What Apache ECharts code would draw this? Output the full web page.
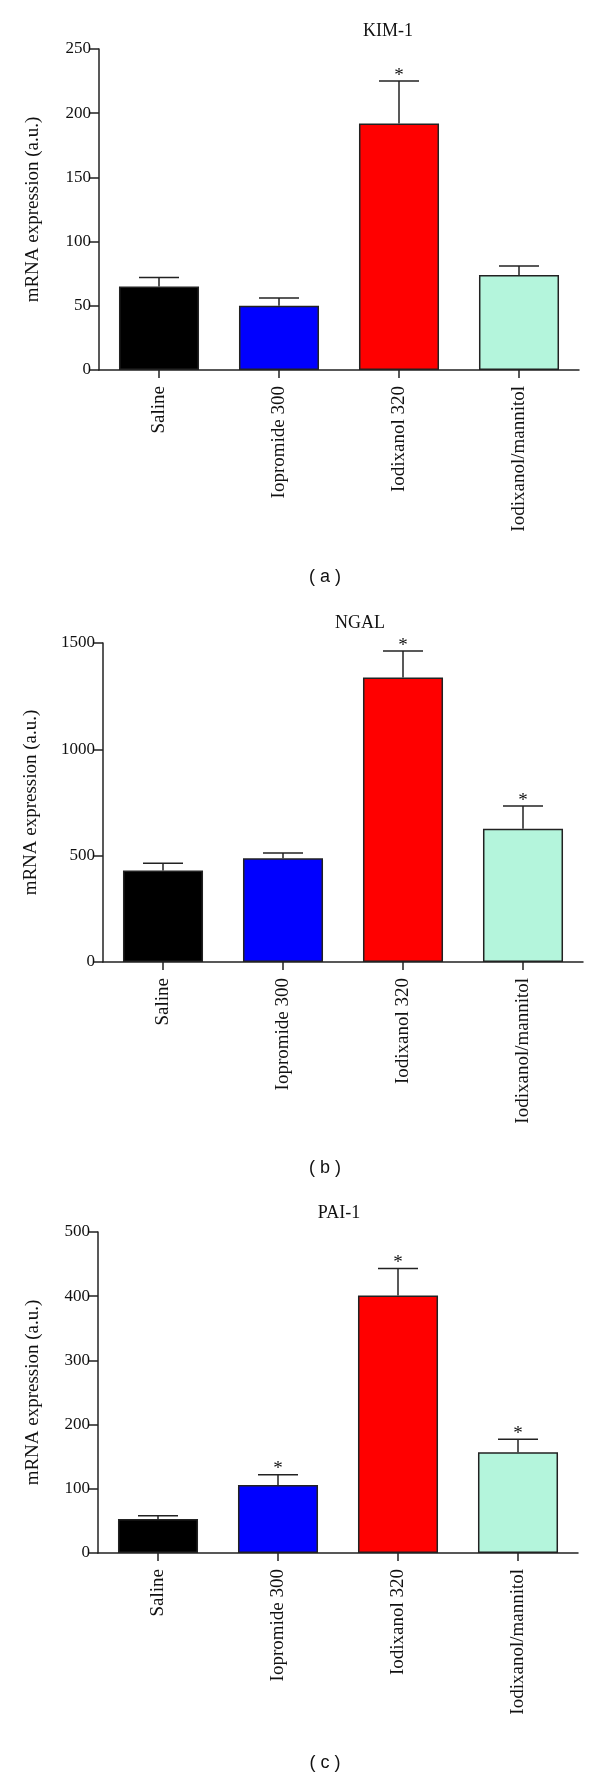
<!DOCTYPE html>
<html>
<head>
<meta charset="utf-8">
<script src="https://cdn.jsdelivr.net/npm/echarts@6/dist/echarts.min.js"></script>
<style>
html,body{margin:0;padding:0;background:#fff;}
#chart{width:600px;height:1777px;}
</style>
</head>
<body>
<div id="chart"></div>
<script>
// ---- data ----
const categories = ['Saline', 'Iopromide 300', 'Iodixanol 320', 'Iodixanol/mannitol'];
const barColors = ['#000000', '#0000ff', '#ff0000', '#b4f5dc'];

const kimMean = [65, 50, 192, 74];
const kimSem  = [7, 6, 33, 7];
const kimSig  = [0, 0, 1, 0];

const ngalMean = [430, 488, 1338, 626];
const ngalSem  = [34, 25, 124, 107];
const ngalSig  = [0, 0, 1, 1];

const paiMean = [53, 106, 401, 157];
const paiSem  = [5, 16, 42, 20];
const paiSig  = [0, 1, 1, 1];

const panelTitles = ['KIM-1', 'NGAL', 'PAI-1'];
const panelLetters = ['( a )', '( b )', '( c )'];
const yMax = [250, 1500, 500];
const yStep = [50, 500, 100];
const yName = 'mRNA expression (a.u.)';

// ---- layout ----
const grids = [
  {left: 99,  top: 49,   height: 321, width: 480},
  {left: 103, top: 643,  height: 319, width: 480},
  {left: 98,  top: 1232, height: 321, width: 480}
];
const titlePos = [[388, 31], [360, 623], [339, 1213]];
const letterPos = [[325, 577], [325, 1168], [325, 1763]];
const nameGaps = [56, 62, 55];

const means = [kimMean, ngalMean, paiMean];
const sems = [kimSem, ngalSem, paiSem];
const sigs = [kimSig, ngalSig, paiSig];

const serif = 'Liberation Serif, Times New Roman, serif';
const ink = '#222';

const xAxes = [], yAxes = [], series = [], graphics = [];
for (let p = 0; p < 3; p++) {
  xAxes.push({
    type: 'category', gridIndex: p, data: categories,
    axisLine: {show: true, lineStyle: {color: ink, width: 1.5}},
    axisTick: {show: true, alignWithLabel: true, length: 8, lineStyle: {color: ink, width: 1.5}},
    axisLabel: {rotate: 90, margin: 16, fontFamily: serif, fontSize: 19, color: '#111'},
    splitLine: {show: false}
  });
  yAxes.push({
    type: 'value', gridIndex: p, min: 0, max: yMax[p], interval: yStep[p],
    name: yName, nameLocation: 'middle', nameGap: nameGaps[p], nameRotate: 90,
    nameTextStyle: {fontFamily: serif, fontSize: 19, color: '#111'},
    axisLine: {show: true, lineStyle: {color: ink, width: 1.5}},
    axisTick: {show: true, length: 9, lineStyle: {color: ink, width: 1.5}},
    axisLabel: {margin: 8, fontFamily: serif, fontSize: 17, color: '#111',
                formatter: function (v) { return String(v); }},
    splitLine: {show: false}
  });
  series.push({
    type: 'bar', xAxisIndex: p, yAxisIndex: p, barWidth: '66.7%',
    data: means[p].map((v, i) => ({value: v, itemStyle: {color: barColors[i]}})),
    itemStyle: {borderColor: ink, borderWidth: 1.5},
    emphasis: {disabled: true}, animation: false
  });
  series.push({
    type: 'custom', xAxisIndex: p, yAxisIndex: p, z: 5, animation: false,
    data: means[p].map((v, i) => [i, v, sems[p][i], sigs[p][i]]),
    encode: {x: 0, y: 1},
    renderItem: function (params, api) {
      const i = api.value(0), m = api.value(1), e = api.value(2), s = api.value(3);
      const base = api.coord([i, m]);
      const top = api.coord([i, m + e]);
      const half = api.size([1, 0])[0] / 6;
      const children = [
        {type: 'line', shape: {x1: base[0], y1: base[1], x2: top[0], y2: top[1]},
         style: {stroke: ink, lineWidth: 1.5}},
        {type: 'line', shape: {x1: top[0] - half, y1: top[1], x2: top[0] + half, y2: top[1]},
         style: {stroke: ink, lineWidth: 1.5}}
      ];
      if (s) {
        children.push({type: 'text', x: top[0], y: top[1] + 4,
          style: {text: '*', fill: '#111', font: '19px ' + serif, align: 'center', verticalAlign: 'bottom'}});
      }
      return {type: 'group', children: children};
    }
  });
  graphics.push({type: 'text', x: titlePos[p][0], y: titlePos[p][1],
    style: {text: panelTitles[p], fill: '#111', font: '18px ' + serif, align: 'center', verticalAlign: 'middle'}});
  graphics.push({type: 'text', x: letterPos[p][0], y: letterPos[p][1],
    style: {text: panelLetters[p], fill: '#111', font: '18px Liberation Sans, Arial, sans-serif', align: 'center', verticalAlign: 'middle'}});
}

const chart = echarts.init(document.getElementById('chart'), null, {renderer: 'canvas'});
chart.setOption({
  animation: false,
  backgroundColor: '#fff',
  grid: grids,
  xAxis: xAxes,
  yAxis: yAxes,
  series: series,
  graphic: graphics
});
</script>
</body>
</html>
